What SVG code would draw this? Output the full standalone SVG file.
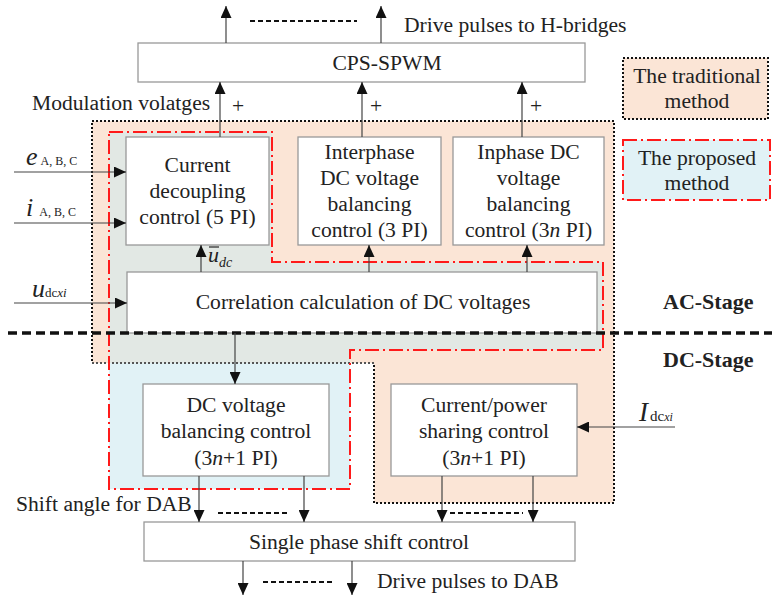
<svg xmlns="http://www.w3.org/2000/svg" width="772" height="600" viewBox="0 0 772 600">
<defs>
<marker id="ah" markerUnits="userSpaceOnUse" markerWidth="13" markerHeight="11" refX="12" refY="5.5" orient="auto">
<path d="M0,0 L12,5.5 L0,11 z" fill="#111"/>
</marker>
<style>
text{font-family:"Liberation Serif","Times New Roman",serif;fill:#222;font-size:21.6px}
.c{text-anchor:middle}
.box{fill:#fff;stroke:#999;stroke-width:1.3}
.ln{stroke:#444;stroke-width:1.2;fill:none}
.ar{stroke:#444;stroke-width:1.2;fill:none;marker-end:url(#ah)}
.dash{stroke:#111;stroke-width:2.2;stroke-dasharray:5 3;fill:none}
.trad{fill:#fbe5d6;stroke:#111;stroke-width:2;stroke-dasharray:2 2}
.prop{fill:none;stroke:#ff1a1a;stroke-width:2;stroke-dasharray:14 4 2 4}
.b{font-weight:bold;font-size:22px}
.i{font-style:italic}
.s{font-size:12px}
</style>
</defs>
<rect width="772" height="600" fill="#fff"/>
<g id="regions">
<path class="trad" d="M92,121 H614 V503 H374 V363 H92 Z"/>
<path d="M109,132 H272 V262 H603 V350 H350 V489 H109 Z" fill="#e1f2f6"/>
<path d="M109,132 H272 V262 H603 V350 H350 V363 H109 Z" fill="#e2e8e4"/>
<path d="M92,363 H374" stroke="#555" stroke-width="2" stroke-dasharray="2 2" fill="none"/>
<path class="prop" d="M109,132 H272 V262 H603 V350 H350 V489 H109 Z"/>
</g>
<g id="legend-traditional">
<rect class="trad" x="623" y="58" width="145" height="61"/>
<text class="c" x="697" y="83">The traditional</text>
<text class="c" x="697" y="108">method</text>
</g>
<g id="legend-proposed">
<rect x="623" y="140" width="147" height="60" fill="#e1f2f6" stroke="#ff1a1a" stroke-width="2" stroke-dasharray="14 4 2 4"/>
<text class="c" x="697" y="165">The proposed</text>
<text class="c" x="697" y="190">method</text>
</g>
<g id="cps-spwm">
<rect class="box" x="138" y="43" width="447" height="39"/>
<text class="c" x="387" y="70">CPS-SPWM</text>
</g>
<g id="current-decoupling">
<rect class="box" x="126" y="137" width="143" height="108"/>
<text class="c" x="197.5" y="172">Current</text>
<text class="c" x="197.5" y="198">decoupling</text>
<text class="c" x="197.5" y="224">control (5 PI)</text>
</g>
<g id="interphase">
<rect class="box" x="298" y="137" width="143" height="108"/>
<text class="c" x="369.5" y="159">Interphase</text>
<text class="c" x="369.5" y="185">DC voltage</text>
<text class="c" x="369.5" y="211">balancing</text>
<text class="c" x="369.5" y="237">control (3 PI)</text>
</g>
<g id="inphase">
<rect class="box" x="453" y="137" width="151" height="108"/>
<text class="c" x="528.5" y="159">Inphase DC</text>
<text class="c" x="528.5" y="185">voltage</text>
<text class="c" x="528.5" y="211">balancing</text>
<text class="c" x="528.5" y="237">control (3<tspan class="i">n</tspan> PI)</text>
</g>
<g id="correlation">
<rect class="box" x="127" y="272" width="470" height="61"/>
<text class="c" x="363" y="309">Correlation calculation of DC voltages</text>
</g>
<g id="dc-voltage-balancing">
<rect class="box" x="143" y="384" width="186" height="92"/>
<text class="c" x="236" y="412">DC voltage</text>
<text class="c" x="236" y="438">balancing control</text>
<text class="c" x="236" y="465">(3<tspan class="i">n</tspan>+1 PI)</text>
</g>
<g id="current-power-sharing">
<rect class="box" x="391" y="384" width="186" height="92"/>
<text class="c" x="484" y="412">Current/power</text>
<text class="c" x="484" y="438">sharing control</text>
<text class="c" x="484" y="465">(3<tspan class="i">n</tspan>+1 PI)</text>
</g>
<g id="single-phase-shift">
<rect class="box" x="144" y="522" width="431" height="39"/>
<text class="c" x="359" y="549">Single phase shift control</text>
</g>
<g id="stage-divider">
<path d="M8,333 H772" stroke="#111" stroke-width="3.5" stroke-dasharray="9 5" fill="none"/>
<text class="b" x="663" y="309">AC-Stage</text>
<text class="b" x="663" y="367">DC-Stage</text>
</g>
<g id="connectors">
<path class="ar" d="M226,43 V6"/>
<path class="ar" d="M381,43 V6"/>
<path class="dash" d="M250,21 H357"/>
<path class="ar" d="M220,137 V82"/>
<path class="ar" d="M362,137 V82"/>
<path class="ar" d="M522,137 V82"/>
<path class="ar" d="M14,172 H126"/>
<path class="ar" d="M14,223 H126"/>
<path class="ar" d="M14,303 H127"/>
<path class="ar" d="M201,272 V245"/>
<path class="ar" d="M369,272 V245"/>
<path class="ar" d="M527,272 V245"/>
<path class="ar" d="M235,333 V384"/>
<path class="ar" d="M199,476 V522"/>
<path class="ar" d="M304,476 V522"/>
<path class="ar" d="M442,476 V522"/>
<path class="ar" d="M533,476 V522"/>
<path class="dash" d="M218,513 H287"/>
<path class="dash" d="M450,513 H523"/>
<path class="ar" d="M243,561 V595"/>
<path class="ar" d="M352,561 V595"/>
<path class="dash" d="M263,582 H333"/>
<path class="ar" d="M675,427 H577"/>
</g>
<g id="labels">
<text x="404" y="32">Drive pulses to H-bridges</text>
<text x="32" y="110">Modulation volatges</text>
<text x="232" y="113">+</text>
<text x="370" y="113">+</text>
<text x="530" y="113">+</text>
<text x="26" y="165"><tspan class="i" font-size="26">e</tspan><tspan class="s" dx="3">A, B, C</tspan></text>
<text x="26" y="216"><tspan class="i" font-size="26">i</tspan><tspan class="s" dx="6">A, B, C</tspan></text>
<text x="32" y="297"><tspan class="i" font-size="26">u</tspan><tspan font-size="13">dc</tspan><tspan class="i" font-size="13">xi</tspan></text>
<text x="208" y="262"><tspan class="i" font-size="22">u</tspan><tspan class="i" font-size="14" dy="5">dc</tspan></text>
<path d="M209,247 H219" stroke="#333" stroke-width="1.3"/>
<text x="639" y="421"><tspan class="i" font-size="27">I</tspan><tspan font-size="15" dx="2">dc</tspan><tspan class="i" font-size="12">xi</tspan></text>
<text x="16" y="511">Shift angle for DAB</text>
<text x="377" y="588">Drive pulses to DAB</text>
</g>
</svg>
